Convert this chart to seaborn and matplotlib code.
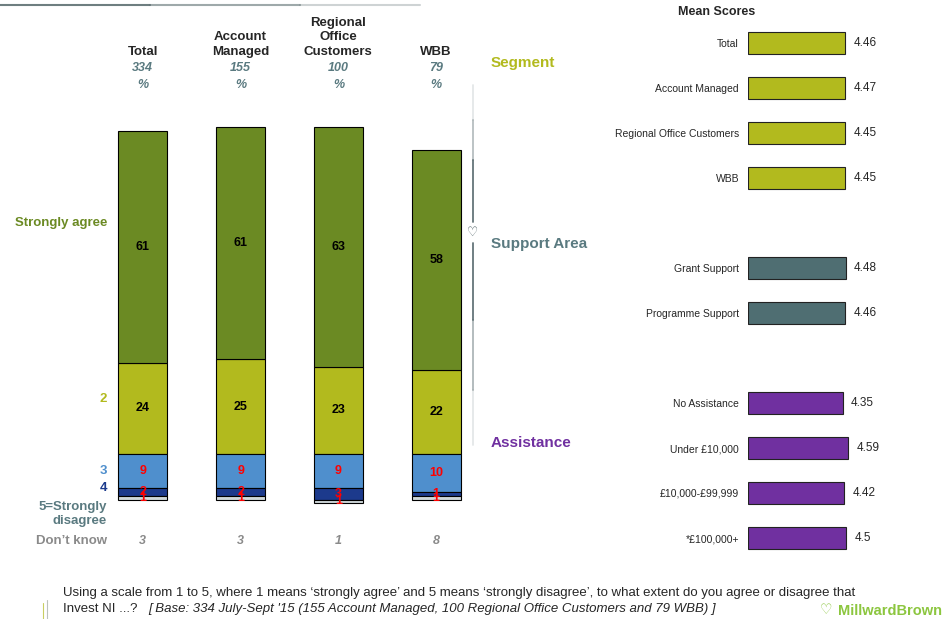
import matplotlib
matplotlib.use("Agg")
import matplotlib.pyplot as plt
import matplotlib.transforms as mtransforms
import seaborn as sns
import numpy as np
import pandas as pd

#---- Data ---------------------------------------------------------####

groups = ["Total", "Account Managed", "Regional Office Customers", "WBB"]
group_headers = ["Total", "Account\nManaged", "Regional\nOffice\nCustomers", "WBB"]
base_n = [334, 155, 100, 79]

strongly_agree = [61, 61, 63, 58]
agree = [24, 25, 23, 22]
neutral = [9, 9, 9, 10]
disagree = [2, 2, 3, 1]
strongly_disagree = [1, 1, 1, 1]
dont_know = [3, 3, 1, 8]

mean_labels_segment = ["Total", "Account Managed", "Regional Office Customers", "WBB"]
mean_scores_segment = [4.46, 4.47, 4.45, 4.45]
mean_labels_support = ["Grant Support", "Programme Support"]
mean_scores_support = [4.48, 4.46]
mean_labels_assist = ["No Assistance", "Under £10,000", "£10,000-£99,999", "*£100,000+"]
mean_scores_assist = [4.35, 4.59, 4.42, 4.5]

#---- Settings ---------------------------------------------------------####

sns.set_style("white")
plt.rcParams['font.family'] = ['Liberation Sans', 'DejaVu Sans']

c_sa = "#6B8A23"
c_agree = "#B2BA1E"
c_neutral = "#4F8FCD"
c_dis = "#1C3A8C"
c_sdis = "#D0D8DA"
c_slate = "#5A7A80"
c_support = "#4F6E72"
c_purple = "#7030A0"
c_dk = "#8A8A8A"

W, H = 942, 619
fig = plt.figure(figsize=(W / 100, H / 100), dpi=100)


def fx(px):
    return px / W


def fy(py):
    return 1 - py / H


#---- Left: stacked bars ---------------------------------------------------------####

px_per_unit = 3.8
zero_y = 454
ax1 = fig.add_axes([fx(94), fy(520), 391 / W, 420 / H])

neg_neutral = [-v for v in neutral]
neg_dis = [-v for v in disagree]
neg_sdis = [-v for v in strongly_disagree]
bot_dis = neg_neutral
bot_sdis = [a + b for a, b in zip(neg_neutral, neg_dis)]

layers = [
    (agree, [0] * 4, c_agree, agree, "black"),
    (strongly_agree, agree, c_sa, strongly_agree, "black"),
    (neg_neutral, [0] * 4, c_neutral, neutral, "red"),
    (neg_dis, bot_dis, c_dis, disagree, "red"),
    (neg_sdis, bot_sdis, c_sdis, strongly_disagree, "red"),
]
for vals, bot, col, lab, lab_col in layers:
    sns.barplot(x=groups, y=vals, bottom=bot, color=col, saturation=1,
                edgecolor="black", linewidth=0.8, width=0.5, errorbar=None, ax=ax1)
    ax1.bar_label(ax1.containers[-1], labels=[str(v) for v in lab], label_type="center",
                  color=lab_col, fontsize=9, fontweight="bold")

ax1.set_xlim(-0.5, 3.5)
ax1.set_ylim(-(520 - zero_y) / px_per_unit, (zero_y - 100) / px_per_unit)
ax1.axis("off")

# headers above and don't know below
trans = mtransforms.blended_transform_factory(ax1.transData, fig.transFigure)
for i, g in enumerate(group_headers):
    ax1.text(i, fy(58), g, transform=trans, ha="center", va="bottom",
             fontsize=9.5, fontweight="bold", linespacing=1.3)
    ax1.text(i, fy(68), str(base_n[i]), transform=trans, ha="center", va="center",
             fontsize=9, fontweight="bold", fontstyle="italic", color=c_slate)
    ax1.text(i, fy(85), "%", transform=trans, ha="center", va="center",
             fontsize=9, fontweight="bold", fontstyle="italic", color=c_slate)
    ax1.text(i, fy(541), str(dont_know[i]), transform=trans, ha="center", va="center",
             fontsize=9, fontweight="bold", fontstyle="italic", color=c_dk)

# row labels
row_labels = [("Strongly agree", 223, c_sa), ("2", 399, c_agree), ("3", 471, c_neutral),
              ("4", 488, c_dis), ("5=Strongly\ndisagree", 514, c_slate), ("Don’t know", 541, c_dk)]
for txt, py, col in row_labels:
    fig.text(fx(107), fy(py), txt, ha="right", va="center", fontsize=9.5,
             fontweight="bold", color=col, linespacing=1.2)

#---- Right: mean scores ---------------------------------------------------------####

mean_df = pd.DataFrame({
    "label": mean_labels_segment + mean_labels_support + mean_labels_assist,
    "score": mean_scores_segment + mean_scores_support + mean_scores_assist,
    "group": ["Segment"] * 4 + ["Support Area"] * 2 + ["Assistance"] * 4,
})
order = mean_labels_segment + [" "] + mean_labels_support + ["  "] + mean_labels_assist
palette = {"Segment": c_agree, "Support Area": c_support, "Assistance": c_purple}

ax2 = fig.add_axes([fx(748), fy(563), 192 / W, 543 / H])
sns.barplot(data=mean_df, x="score", y="label", hue="group", order=order,
            palette=palette, dodge=False, width=0.51, saturation=1, orient="h",
            edgecolor="#222222", linewidth=0.8, errorbar=None, legend=False, ax=ax2)
for cont in ax2.containers:
    ax2.bar_label(cont, fmt="{:g}", padding=6, fontsize=8.5)
ax2.set_xlim(0, 192 / 21.8)
ax2.set_ylim((563 - 43) / 45, (20 - 43) / 45)
ax2.set_xlabel("")
ax2.set_ylabel("")
ax2.set_xticks([])
ax2.tick_params(axis="y", length=0, pad=6.5, labelsize=7.5)
sns.despine(ax=ax2, left=True, bottom=True)

fig.text(fx(717), fy(12), "Mean Scores", ha="center", va="center", fontsize=9, fontweight="bold")
fig.text(fx(491), fy(63), "Segment", ha="left", va="center", fontsize=11, fontweight="bold", color=c_agree)
fig.text(fx(491), fy(244), "Support Area", ha="left", va="center", fontsize=11, fontweight="bold", color=c_slate)
fig.text(fx(491), fy(443), "Assistance", ha="left", va="center", fontsize=11, fontweight="bold", color=c_purple)

#---- Decorations and footer ---------------------------------------------------------####

# separator line with icon, fading towards both ends
for y0, y1, a in [(85, 120, 0.15), (120, 160, 0.4), (160, 222, 0.85),
                  (243, 320, 0.85), (320, 390, 0.45), (390, 445, 0.15)]:
    fig.add_artist(plt.Line2D([fx(473), fx(473)], [fy(y0), fy(y1)], color="#4A5E62",
                              lw=1.3, alpha=a))
fig.text(fx(473), fy(232), "♡", ha="center", va="center", fontsize=9, fontweight="bold",
         color="#4A5E62", family=["DejaVu Sans"])

# top rule
for x0, x1, a in [(0, 150, 0.9), (150, 300, 0.6), (300, 420, 0.3)]:
    fig.add_artist(plt.Line2D([fx(x0), fx(x1)], [fy(5), fy(5)], color="#5E7072", lw=1.5, alpha=a))

# small marks bottom-left
fig.add_artist(plt.Line2D([fx(43), fx(43)], [fy(603), fy(619)], color="#B2BA1E", lw=0.8, alpha=0.7))
fig.add_artist(plt.Line2D([fx(47), fx(47)], [fy(600), fy(619)], color="#A0A8A0", lw=0.8, alpha=0.7))

footer_font = ["Liberation Sans", "DejaVu Sans"]
fig.text(fx(63), fy(593), "Using a scale from 1 to 5, where 1 means ‘strongly agree’ and 5 means ‘strongly disagree’, "
         "to what extent do you agree or disagree that", ha="left", va="center", fontsize=9.5, family=footer_font)
fig.text(fx(63), fy(609), "Invest NI ...?", ha="left", va="center", fontsize=9.5, family=footer_font)
fig.text(fx(148), fy(609), "[ Base: 334 July-Sept '15 (155 Account Managed, 100 Regional Office Customers and 79 WBB) ]",
         ha="left", va="center", fontsize=9.5, fontstyle="italic", family=footer_font)

fig.text(fx(826), fy(610), "♡", ha="center", va="center", fontsize=10, fontweight="bold",
         color="#8CC63F", family=["DejaVu Sans"])
fig.text(fx(838), fy(611), "MillwardBrown", ha="left", va="center", fontsize=10.5,
         color="#8CC63F", fontweight="bold")

plt.savefig("out.png", dpi=100)
